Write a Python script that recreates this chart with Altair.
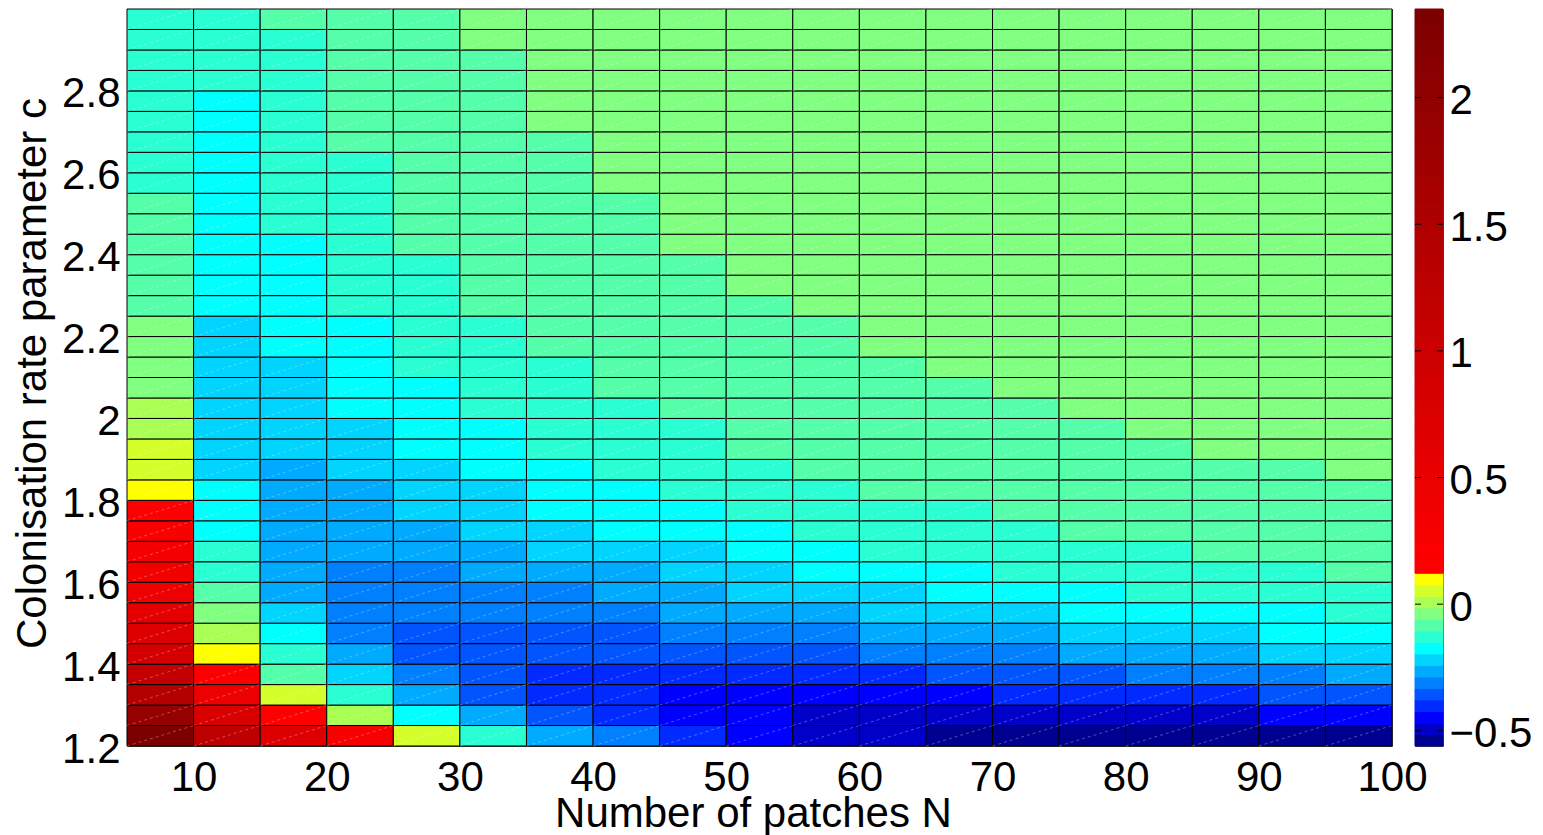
import altair as alt
import pandas as pd

# ---------------- data ----------------
# lower edge of each column (number of patches N); each cell spans 5 units
N_LEFT = [5, 10, 15, 20, 25, 30, 35, 40, 45, 50, 55, 60, 65, 70, 75, 80, 85, 90, 95]
# lower edge of each row (colonisation rate parameter c); each cell spans 0.05
C_BOTTOM = [1.20, 1.25, 1.30, 1.35, 1.40, 1.45, 1.50, 1.55, 1.60, 1.65, 1.70, 1.75,
            1.80, 1.85, 1.90, 1.95, 2.00, 2.05, 2.10, 2.15, 2.20, 2.25, 2.30, 2.35,
            2.40, 2.45, 2.50, 2.55, 2.60, 2.65, 2.70, 2.75, 2.80, 2.85, 2.90, 2.95]

r120 = [2.33, 1.22, 0.69, 0.30, 0.05, -0.13, -0.26, -0.31, -0.40, -0.45, -0.49, -0.49, -0.54, -0.54, -0.54, -0.54, -0.54, -0.54, -0.54]
r125 = [1.90, 0.79, 0.15, 0.01, -0.17, -0.26, -0.36, -0.40, -0.45, -0.45, -0.49, -0.49, -0.49, -0.49, -0.49, -0.49, -0.49, -0.45, -0.45]
r130 = [1.44, 0.45, 0.05, -0.13, -0.26, -0.36, -0.40, -0.40, -0.45, -0.45, -0.45, -0.45, -0.45, -0.40, -0.40, -0.40, -0.40, -0.36, -0.36]
r135 = [1.16, 0.20, -0.08, -0.22, -0.31, -0.36, -0.40, -0.40, -0.40, -0.40, -0.40, -0.40, -0.36, -0.36, -0.36, -0.31, -0.31, -0.31, -0.26]
r140 = [0.88, 0.10, -0.13, -0.26, -0.36, -0.36, -0.36, -0.36, -0.36, -0.36, -0.36, -0.31, -0.31, -0.31, -0.26, -0.26, -0.26, -0.22, -0.22]
r145 = [0.67, 0.01, -0.17, -0.31, -0.36, -0.36, -0.36, -0.36, -0.31, -0.31, -0.31, -0.26, -0.26, -0.26, -0.22, -0.22, -0.22, -0.17, -0.17]
r150 = [0.60, -0.04, -0.22, -0.31, -0.31, -0.31, -0.31, -0.31, -0.26, -0.26, -0.26, -0.22, -0.22, -0.22, -0.17, -0.17, -0.17, -0.17, -0.13]
r155 = [0.46, -0.08, -0.26, -0.31, -0.31, -0.31, -0.31, -0.26, -0.26, -0.22, -0.22, -0.22, -0.17, -0.17, -0.17, -0.13, -0.13, -0.13, -0.13]
r160 = [0.39, -0.13, -0.26, -0.31, -0.31, -0.26, -0.26, -0.26, -0.22, -0.22, -0.17, -0.17, -0.17, -0.13, -0.13, -0.13, -0.13, -0.13, -0.08]
r165 = [0.32, -0.13, -0.26, -0.26, -0.26, -0.26, -0.22, -0.22, -0.22, -0.17, -0.17, -0.13, -0.13, -0.13, -0.13, -0.13, -0.08, -0.08, -0.08]
r170 = [0.25, -0.17, -0.26, -0.26, -0.26, -0.22, -0.22, -0.17, -0.17, -0.17, -0.13, -0.13, -0.13, -0.13, -0.08, -0.08, -0.08, -0.08, -0.08]
r175 = [0.15, -0.17, -0.26, -0.26, -0.22, -0.22, -0.17, -0.17, -0.17, -0.13, -0.13, -0.13, -0.13, -0.08, -0.08, -0.08, -0.08, -0.08, -0.08]
r180 = [0.10, -0.17, -0.26, -0.26, -0.22, -0.22, -0.17, -0.17, -0.13, -0.13, -0.13, -0.08, -0.08, -0.08, -0.08, -0.08, -0.08, -0.08, -0.08]
r185 = [0.05, -0.22, -0.26, -0.22, -0.22, -0.17, -0.17, -0.13, -0.13, -0.13, -0.08, -0.08, -0.08, -0.08, -0.08, -0.08, -0.08, -0.08, -0.04]
r190 = [0.05, -0.22, -0.22, -0.22, -0.17, -0.17, -0.13, -0.13, -0.13, -0.08, -0.08, -0.08, -0.08, -0.08, -0.08, -0.08, -0.04, -0.04, -0.04]
r195 = [0.01, -0.22, -0.22, -0.22, -0.17, -0.17, -0.13, -0.13, -0.13, -0.08, -0.08, -0.08, -0.08, -0.08, -0.08, -0.04, -0.04, -0.04, -0.04]
r200 = [0.01, -0.22, -0.22, -0.17, -0.17, -0.13, -0.13, -0.13, -0.08, -0.08, -0.08, -0.08, -0.08, -0.08, -0.04, -0.04, -0.04, -0.04, -0.04]
r205 = [-0.04, -0.22, -0.22, -0.17, -0.17, -0.13, -0.13, -0.08, -0.08, -0.08, -0.08, -0.08, -0.08, -0.04, -0.04, -0.04, -0.04, -0.04, -0.04]
r210 = [-0.04, -0.22, -0.22, -0.17, -0.13, -0.13, -0.13, -0.08, -0.08, -0.08, -0.08, -0.08, -0.04, -0.04, -0.04, -0.04, -0.04, -0.04, -0.04]
r215 = [-0.04, -0.22, -0.17, -0.17, -0.13, -0.13, -0.08, -0.08, -0.08, -0.08, -0.08, -0.04, -0.04, -0.04, -0.04, -0.04, -0.04, -0.04, -0.04]
r220 = [-0.04, -0.22, -0.17, -0.17, -0.13, -0.13, -0.08, -0.08, -0.08, -0.08, -0.08, -0.04, -0.04, -0.04, -0.04, -0.04, -0.04, -0.04, -0.04]
r225 = [-0.08, -0.17, -0.17, -0.13, -0.13, -0.08, -0.08, -0.08, -0.08, -0.08, -0.04, -0.04, -0.04, -0.04, -0.04, -0.04, -0.04, -0.04, -0.04]
r230 = [-0.08, -0.17, -0.17, -0.13, -0.13, -0.08, -0.08, -0.08, -0.08, -0.04, -0.04, -0.04, -0.04, -0.04, -0.04, -0.04, -0.04, -0.04, -0.04]
r235 = [-0.08, -0.17, -0.17, -0.13, -0.13, -0.08, -0.08, -0.08, -0.08, -0.04, -0.04, -0.04, -0.04, -0.04, -0.04, -0.04, -0.04, -0.04, -0.04]
r240 = [-0.08, -0.17, -0.17, -0.13, -0.08, -0.08, -0.08, -0.08, -0.04, -0.04, -0.04, -0.04, -0.04, -0.04, -0.04, -0.04, -0.04, -0.04, -0.04]
r245 = [-0.08, -0.17, -0.13, -0.13, -0.08, -0.08, -0.08, -0.08, -0.04, -0.04, -0.04, -0.04, -0.04, -0.04, -0.04, -0.04, -0.04, -0.04, -0.04]
r250 = [-0.08, -0.17, -0.13, -0.13, -0.08, -0.08, -0.08, -0.08, -0.04, -0.04, -0.04, -0.04, -0.04, -0.04, -0.04, -0.04, -0.04, -0.04, -0.04]
r255 = [-0.13, -0.17, -0.13, -0.13, -0.08, -0.08, -0.08, -0.04, -0.04, -0.04, -0.04, -0.04, -0.04, -0.04, -0.04, -0.04, -0.04, -0.04, -0.04]
r260 = [-0.13, -0.17, -0.13, -0.13, -0.08, -0.08, -0.08, -0.04, -0.04, -0.04, -0.04, -0.04, -0.04, -0.04, -0.04, -0.04, -0.04, -0.04, -0.04]
r265 = [-0.13, -0.17, -0.13, -0.08, -0.08, -0.08, -0.08, -0.04, -0.04, -0.04, -0.04, -0.04, -0.04, -0.04, -0.04, -0.04, -0.04, -0.04, -0.04]
r270 = [-0.13, -0.17, -0.13, -0.08, -0.08, -0.08, -0.04, -0.04, -0.04, -0.04, -0.04, -0.04, -0.04, -0.04, -0.04, -0.04, -0.04, -0.04, -0.04]
r275 = [-0.13, -0.17, -0.13, -0.08, -0.08, -0.08, -0.04, -0.04, -0.04, -0.04, -0.04, -0.04, -0.04, -0.04, -0.04, -0.04, -0.04, -0.04, -0.04]
r280 = [-0.13, -0.13, -0.13, -0.08, -0.08, -0.08, -0.04, -0.04, -0.04, -0.04, -0.04, -0.04, -0.04, -0.04, -0.04, -0.04, -0.04, -0.04, -0.04]
r285 = [-0.13, -0.13, -0.13, -0.08, -0.08, -0.08, -0.04, -0.04, -0.04, -0.04, -0.04, -0.04, -0.04, -0.04, -0.04, -0.04, -0.04, -0.04, -0.04]
r290 = [-0.13, -0.13, -0.13, -0.08, -0.08, -0.04, -0.04, -0.04, -0.04, -0.04, -0.04, -0.04, -0.04, -0.04, -0.04, -0.04, -0.04, -0.04, -0.04]
r295 = [-0.13, -0.13, -0.08, -0.08, -0.08, -0.04, -0.04, -0.04, -0.04, -0.04, -0.04, -0.04, -0.04, -0.04, -0.04, -0.04, -0.04, -0.04, -0.04]

ROWS = [r120, r125, r130, r135, r140, r145, r150, r155, r160, r165, r170, r175,
        r180, r185, r190, r195, r200, r205, r210, r215, r220, r225, r230, r235,
        r240, r245, r250, r255, r260, r265, r270, r275, r280, r285, r290, r295]

X_TICKS = [10, 20, 30, 40, 50, 60, 70, 80, 90, 100]
Y_TICKS = [1.2, 1.4, 1.6, 1.8, 2.0, 2.2, 2.4, 2.6, 2.8]
CB_TICKS = [-0.5, 0, 0.5, 1, 1.5, 2]

# colour map: 15 jet-like steps then 49 reds (dark red at the top)
VMIN, VMAX = -0.56, 2.35
JET_PART = ['#000090', '#0000C8', '#0000FF', '#002AFF', '#0055FF', '#0080FF',
            '#00AAFF', '#00D4FF', '#00FFFF', '#2AFFD4', '#55FFAA', '#80FF80',
            '#AAFF55', '#D4FF2A', '#FFFF00']
N_RED = 49
RED_PART = ['#%02x0000' % round(255 - 130 * k / (N_RED - 1)) for k in range(N_RED)]
COLORS = JET_PART + RED_PART
NBINS = len(COLORS)
STEP = (VMAX - VMIN) / NBINS
THRESH = [VMIN + STEP * k for k in range(1, NBINS)]

# ---------------- tables ----------------
recs = []
for c, row in zip(C_BOTTOM, ROWS):
    for n, v in zip(N_LEFT, row):
        recs.append({'N0': n, 'N1': n + 5, 'c0': c, 'c1': round(c + 0.05, 2), 'value': v})
df = pd.DataFrame(recs)

cb_df = pd.DataFrame({
    'lo': [VMIN + STEP * k for k in range(NBINS)],
    'hi': [VMIN + STEP * (k + 1) for k in range(NBINS)],
    'mid': [VMIN + STEP * (k + 0.5) for k in range(NBINS)],
})
cbt_df = pd.DataFrame({'t': CB_TICKS})

FONT = 'Liberation Sans'
FS = 42
cscale = alt.Scale(type='threshold', domain=THRESH, range=COLORS)

W, H = 1265, 737
xsc = alt.Scale(domain=[5, 100], nice=False, zero=False)
ysc = alt.Scale(domain=[1.2, 3.0], nice=False, zero=False)

cells = alt.Chart(df).mark_rect(stroke='black', strokeWidth=1).encode(
    x=alt.X('N0:Q', scale=xsc, title='Number of patches N',
            axis=alt.Axis(values=X_TICKS, format='d', labelBaseline='alphabetic',
                          labelPadding=44, titleBaseline='alphabetic', titleY=80,
                          titleX=626)),
    x2='N1:Q',
    y=alt.Y('c0:Q', scale=ysc, title='Colonisation rate parameter c',
            axis=alt.Axis(values=Y_TICKS, format='~g', labelPadding=7,
                          labelBaseline='middle', labelOffset=3,
                          titleAngle=270, titleBaseline='alphabetic', titleX=-82,
                          titleY=364)),
    y2='c1:Q',
    color=alt.Color('value:Q', scale=cscale, legend=None),
)

diag = alt.Chart(df).mark_rule(color='white', strokeWidth=1, opacity=0.3,
                               strokeDash=[3, 3]).encode(
    x=alt.X('N0:Q', scale=xsc), x2='N1:Q',
    y=alt.Y('c0:Q', scale=ysc), y2='c1:Q',
)

heat = alt.layer(cells, diag).properties(width=W, height=H)

CBW = 28
cbsc = alt.Scale(domain=[VMIN, VMAX], nice=False, zero=False)
cbar = alt.Chart(cb_df).mark_rect(strokeWidth=1).encode(
    x=alt.value(0), x2=alt.value(CBW),
    y=alt.Y('lo:Q', scale=cbsc, title=None,
            axis=alt.Axis(orient='right', values=CB_TICKS, format='~g',
                          labelPadding=6, labelBaseline='middle', labelOffset=3)),
    y2='hi:Q',
    color=alt.Color('mid:Q', scale=cscale, legend=None),
    stroke=alt.Color('mid:Q', scale=cscale, legend=None),
)
tl = alt.Chart(cbt_df).mark_rule(color='black', strokeWidth=1).encode(
    y=alt.Y('t:Q', scale=cbsc), x=alt.value(0), x2=alt.value(6))
tr = alt.Chart(cbt_df).mark_rule(color='black', strokeWidth=1).encode(
    y=alt.Y('t:Q', scale=cbsc), x=alt.value(CBW - 6), x2=alt.value(CBW))
colorbar = alt.layer(cbar, tl, tr).properties(width=CBW, height=H)

chart = alt.hconcat(heat, colorbar, spacing=23, bounds='flush').resolve_scale(
    x='independent', y='independent', color='shared'
).properties(
    padding={'left': 10, 'top': 8, 'right': 5, 'bottom': 0},
    background='white'
).configure_view(
    stroke='#444444', strokeWidth=1
).configure_axis(
    labelFont=FONT, labelFontSize=FS, labelColor='black',
    titleFont=FONT, titleFontSize=FS, titleFontWeight='normal', titleColor='black',
    ticks=False, tickSize=0, domain=False, grid=False,
    labelFlush=False, labelOverlap=False,
)

chart.save('out.html', embed_options={'renderer': 'svg', 'actions': False})
